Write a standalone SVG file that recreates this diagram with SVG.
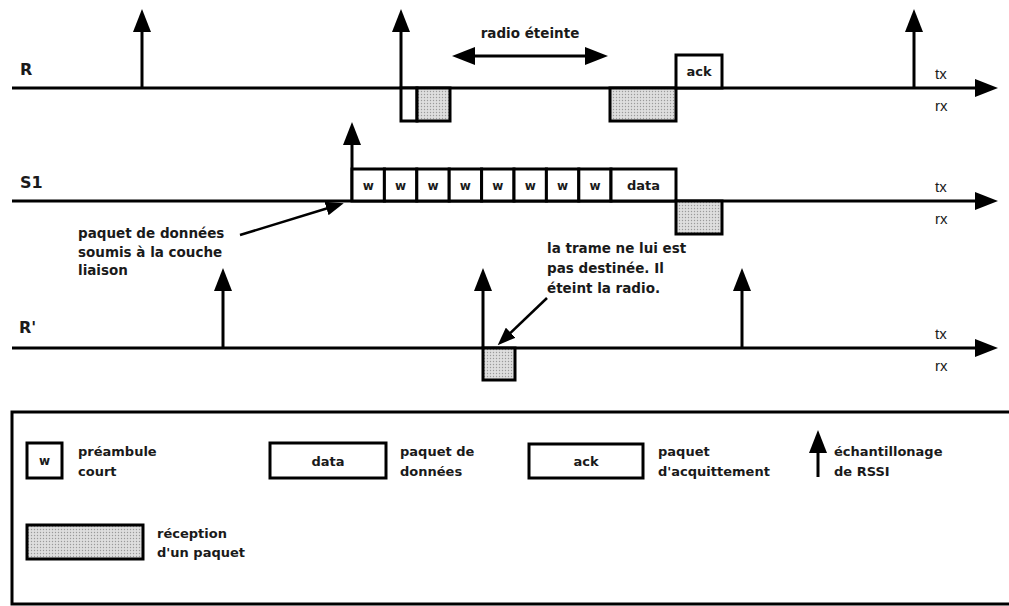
<svg xmlns="http://www.w3.org/2000/svg" width="1009" height="606" viewBox="0 0 1009 606">
<style>
  .ln{stroke:#000;stroke-width:3;fill:none}
  .ax{stroke:#000;stroke-width:3;fill:none;marker-end:url(#ah)}
  .an{stroke:#000;stroke-width:2.5;fill:none;marker-end:url(#ahs)}
  .bx{stroke:#000;stroke-width:3;fill:#fff}
  .gr{stroke:#000;stroke-width:3;fill:url(#dots)}
  .t{font-family:"DejaVu Sans","Liberation Sans",sans-serif;font-weight:bold;font-size:13.5px;fill:#1a1a1a}
  .lg{font-family:"DejaVu Sans","Liberation Sans",sans-serif;font-weight:bold;font-size:13px;fill:#1a1a1a}
  .nm{font-family:"DejaVu Sans","Liberation Sans",sans-serif;font-weight:bold;font-size:16px;fill:#1a1a1a}
  .w{font-family:"DejaVu Sans","Liberation Sans",sans-serif;font-weight:bold;font-size:12px;fill:#1a1a1a;text-anchor:middle}
  .bt{font-family:"DejaVu Sans","Liberation Sans",sans-serif;font-weight:bold;font-size:13px;fill:#1a1a1a;text-anchor:middle}
  .tr{font-family:"Liberation Sans",Arial,sans-serif;font-size:15px;fill:#1a1a1a}
</style>
<defs>
  <pattern id="dots" width="3" height="3" patternUnits="userSpaceOnUse">
    <rect width="3" height="3" fill="#dedede"/>
    <circle cx="1.5" cy="1.5" r="0.7" fill="#9a9a9a"/>
  </pattern>
  <marker id="ah" markerUnits="userSpaceOnUse" markerWidth="23" markerHeight="18" viewBox="0 0 23 18" refX="15" refY="9" orient="auto-start-reverse">
    <path d="M0,0 L23,9 L0,18 z" fill="#000"/>
  </marker>
  <marker id="ahs" markerUnits="userSpaceOnUse" markerWidth="18" markerHeight="14" viewBox="0 0 18 14" refX="12" refY="7" orient="auto">
    <path d="M0,0 L18,7 L0,14 z" fill="#000"/>
  </marker>
</defs>

<g id="connectors">
  <line class="ax" x1="12" y1="88" x2="990" y2="88"/>
  <line class="ax" x1="12" y1="201" x2="990" y2="201"/>
  <line class="ax" x1="12" y1="348" x2="990" y2="348"/>
  <line class="ax" x1="142" y1="88" x2="142" y2="17"/>
  <line class="ax" x1="401" y1="88" x2="401" y2="17"/>
  <line class="ax" x1="914" y1="88" x2="914" y2="17"/>
  <line class="ax" x1="352" y1="201" x2="352" y2="130"/>
  <line class="ax" x1="223" y1="348" x2="223" y2="276"/>
  <line class="ax" x1="483" y1="348" x2="483" y2="276"/>
  <line class="ax" x1="742" y1="348" x2="742" y2="276"/>
  <line class="ax" x1="460" y1="56" x2="600" y2="56" style="marker-start:url(#ah)"/>
  <line class="an" x1="240" y1="235" x2="338" y2="205"/>
  <line class="an" x1="547" y1="298" x2="502" y2="341"/>
</g>

<g id="node-R">
  <text class="nm" x="20" y="75">R</text>
  <rect class="bx" x="401" y="88" width="16" height="33"/>
  <rect class="gr" x="417" y="88" width="33" height="33"/>
  <rect class="gr" x="610" y="88" width="66" height="33"/>
  <rect class="bx" x="676" y="55" width="46" height="33"/>
  <text class="bt" x="699" y="76">ack</text>
  <text class="tr" x="935" y="79">tx</text>
  <text class="tr" x="935" y="111">rx</text>
  <text class="t" x="530" y="38" text-anchor="middle">radio éteinte</text>
</g>

<g id="node-S1">
  <text class="nm" x="20" y="188">S1</text>
  <rect class="bx" x="352" y="169" width="32.4" height="32"/>
  <rect class="bx" x="384.4" y="169" width="32.4" height="32"/>
  <rect class="bx" x="416.8" y="169" width="32.4" height="32"/>
  <rect class="bx" x="449.2" y="169" width="32.4" height="32"/>
  <rect class="bx" x="481.6" y="169" width="32.4" height="32"/>
  <rect class="bx" x="514" y="169" width="32.4" height="32"/>
  <rect class="bx" x="546.4" y="169" width="32.4" height="32"/>
  <rect class="bx" x="578.8" y="169" width="32.2" height="32"/>
  <rect class="bx" x="611" y="169" width="65" height="32"/>
  <text class="w" x="368.2" y="190">w</text>
  <text class="w" x="400.6" y="190">w</text>
  <text class="w" x="433" y="190">w</text>
  <text class="w" x="465.4" y="190">w</text>
  <text class="w" x="497.8" y="190">w</text>
  <text class="w" x="530.2" y="190">w</text>
  <text class="w" x="562.6" y="190">w</text>
  <text class="w" x="595" y="190">w</text>
  <text class="bt" x="643.5" y="190">data</text>
  <rect class="gr" x="676" y="201" width="46" height="33"/>
  <text class="tr" x="935" y="192">tx</text>
  <text class="tr" x="935" y="224">rx</text>
  <text class="t" x="78"><tspan x="78" y="238">paquet de données</tspan><tspan x="78" y="256.5">soumis à la couche</tspan><tspan x="78" y="275">liaison</tspan></text>
</g>

<g id="node-Rp">
  <text class="nm" x="19" y="333">R'</text>
  <rect class="gr" x="483" y="348" width="32" height="32"/>
  <text class="tr" x="935" y="339">tx</text>
  <text class="tr" x="935" y="371">rx</text>
  <text class="t" x="547"><tspan x="547" y="253">la trame ne lui est</tspan><tspan x="547" y="273">pas destinée. Il</tspan><tspan x="547" y="293">éteint la radio.</tspan></text>
</g>

<g id="legend">
  <rect x="12" y="412" width="1010" height="192" fill="none" stroke="#000" stroke-width="3"/>
  <rect class="bx" x="27" y="443" width="35" height="35"/>
  <text class="w" x="44.5" y="465">w</text>
  <text class="lg"><tspan x="78" y="456">préambule</tspan><tspan x="78" y="476">court</tspan></text>
  <rect class="bx" x="270" y="443" width="116" height="35"/>
  <text class="bt" x="328" y="466">data</text>
  <text class="lg"><tspan x="400" y="456">paquet de</tspan><tspan x="400" y="476">données</tspan></text>
  <rect class="bx" x="529" y="444" width="114" height="34"/>
  <text class="bt" x="586" y="466">ack</text>
  <text class="lg"><tspan x="658" y="456">paquet</tspan><tspan x="658" y="476">d'acquittement</tspan></text>
  <line class="ax" x1="818" y1="477" x2="818" y2="438"/>
  <text class="lg"><tspan x="834" y="456">échantillonage</tspan><tspan x="834" y="476">de RSSI</tspan></text>
  <rect class="gr" x="27" y="525" width="116" height="34"/>
  <text class="lg"><tspan x="157" y="538">réception</tspan><tspan x="157" y="557">d'un paquet</tspan></text>
</g>
</svg>
